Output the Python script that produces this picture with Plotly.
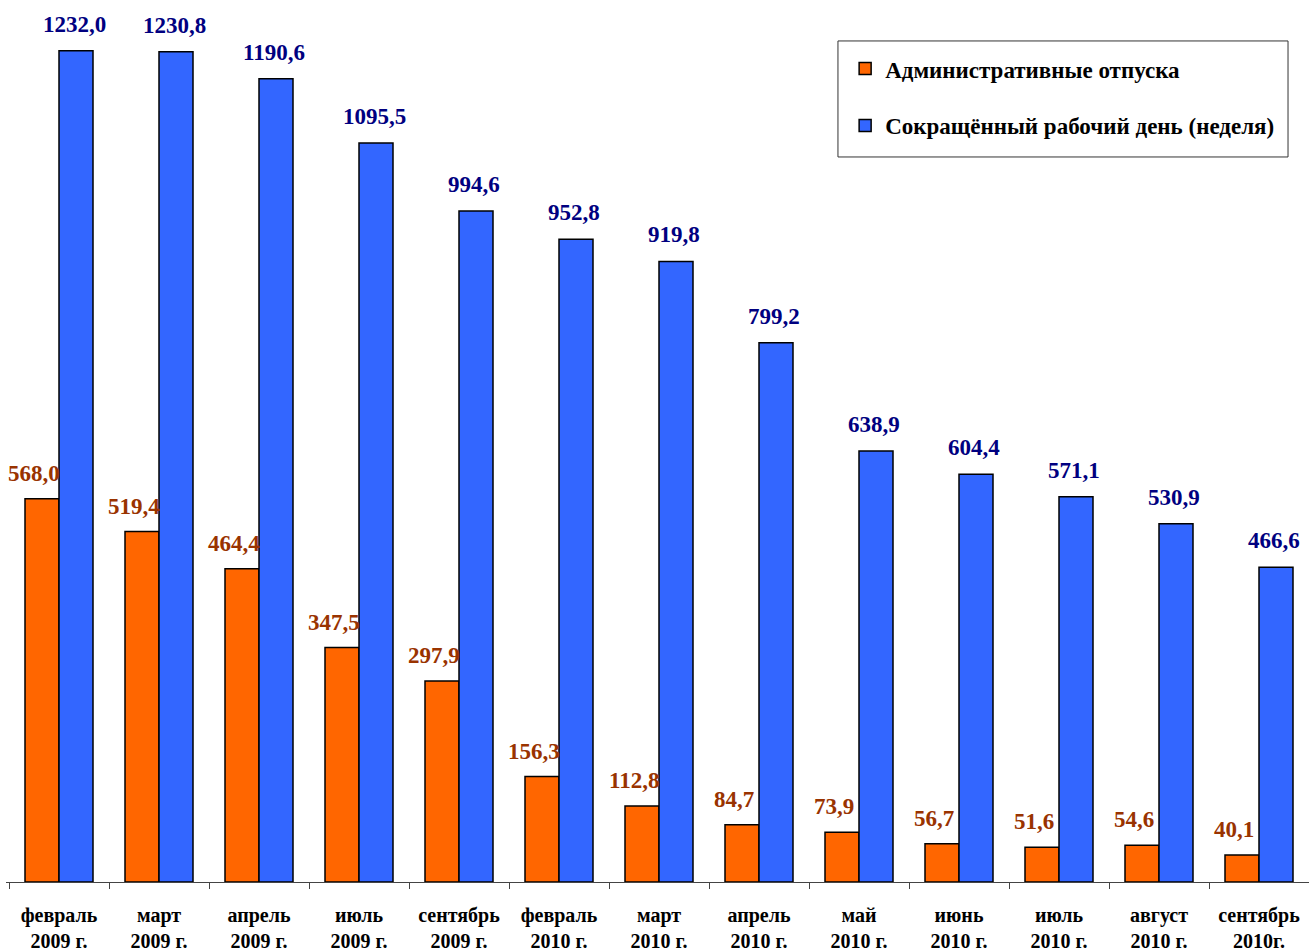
import plotly.graph_objects as go

categories = ["февраль<br>2009 г.", "март<br>2009 г.", "апрель<br>2009 г.", "июль<br>2009 г.",
              "сентябрь<br>2009 г.", "февраль<br>2010 г.", "март<br>2010 г.", "апрель<br>2010 г.",
              "май<br>2010 г.", "июнь<br>2010 г.", "июль<br>2010 г.", "август<br>2010 г.",
              "сентябрь<br>2010г."]
admin_leave = [568.0, 519.4, 464.4, 347.5, 297.9, 156.3, 112.8, 84.7, 73.9, 56.7, 51.6, 54.6, 40.1]
short_week = [1232.0, 1230.8, 1190.6, 1095.5, 994.6, 952.8, 919.8, 799.2, 638.9, 604.4, 571.1, 530.9, 466.6]
series_names = ["Административные отпуска", "Сокращённый рабочий день (неделя)"]

FONT = "Liberation Serif"

def fmt(v):
    return f"{v:.1f}".replace(".", ",")

fig = go.Figure()
fig.add_trace(go.Bar(x=categories, y=admin_leave, name=series_names[0],
                     marker=dict(color="#FF6600", line=dict(color="#000000", width=1.5)),
                     legendgroup="a"))
fig.add_trace(go.Bar(x=categories, y=short_week, name=series_names[1],
                     marker=dict(color="#3366FF", line=dict(color="#000000", width=1.5)),
                     legendgroup="b"))

annotations = []
for c, v in zip(categories, admin_leave):
    annotations.append(dict(x=c, y=v, text=fmt(v), showarrow=False,
                            xanchor="center", yanchor="bottom", xshift=-25, yshift=11,
                            font=dict(family=FONT, size=23, color="#993300", weight="bold")))
for c, v in zip(categories, short_week):
    annotations.append(dict(x=c, y=v, text=fmt(v), showarrow=False,
                            xanchor="center", yanchor="bottom", xshift=15, yshift=12,
                            font=dict(family=FONT, size=23, color="#000080", weight="bold")))

fig.update_layout(
    width=1309, height=952,
    margin=dict(l=6, r=0, t=5, b=70),
    paper_bgcolor="white", plot_bgcolor="white",
    barmode="group", bargap=0.32, bargroupgap=0,
    font=dict(family=FONT, size=20, color="#000000"),
    annotations=annotations,
    showlegend=True,
    shapes=[dict(type="rect", xref="paper", yref="paper",
                 x0=0.6385, x1=0.9839, y0=0.8267, y1=0.959,
                 line=dict(color="#333333", width=1), fillcolor="white", layer="below")],
    legend=dict(x=0.644, y=0.952, xanchor="left", yanchor="top",
                bgcolor="rgba(0,0,0,0)", borderwidth=0,
                font=dict(family=FONT, size=23, color="#000000", weight="bold"),
                tracegroupgap=24, traceorder="grouped", itemwidth=30),
    xaxis=dict(showline=True, linecolor="#444444", linewidth=1, automargin=False,
               ticks="outside", tickson="boundaries", ticklen=6, tickcolor="#444444",
               ticklabelstandoff=15,
               tickfont=dict(family=FONT, size=20, color="#000000", weight="bold"),
               showgrid=False),
    yaxis=dict(range=[0, 1300], visible=False, showgrid=False, zeroline=False, automargin=False),
)
fig.update_traces(cliponaxis=False)

fig.write_html("out.html")
